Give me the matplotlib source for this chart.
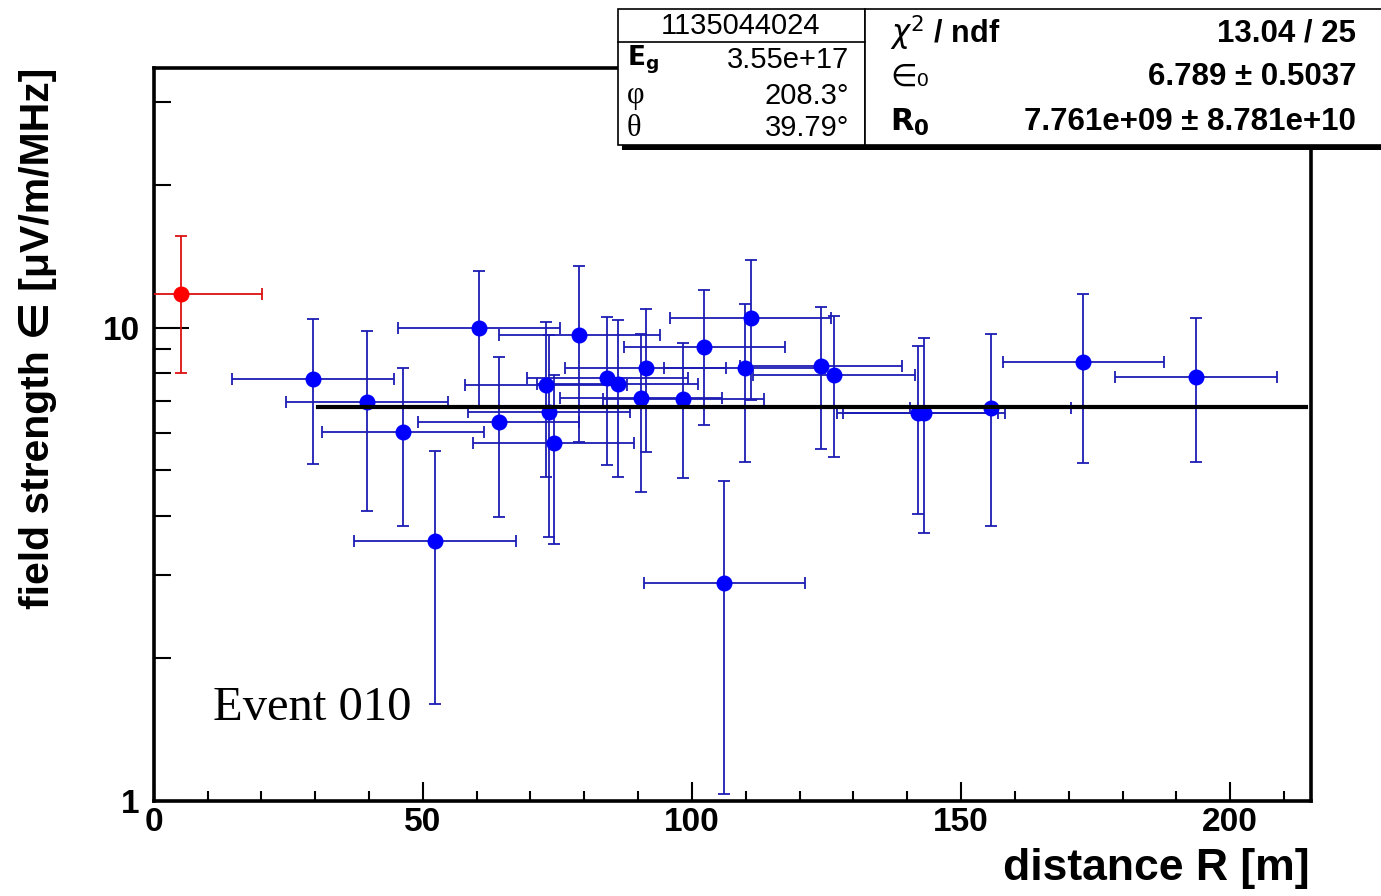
import matplotlib as mpl
mpl.use('Agg')
import matplotlib.pyplot as plt
import numpy as np
from matplotlib.patches import Rectangle
from matplotlib.ticker import LogLocator, NullFormatter, FixedLocator, MultipleLocator

plt.rcParams['font.family'] = ['Liberation Sans', 'DejaVu Sans']

# red station (not in fit)
r_red = [5.1]
eps_red = [11.8]
err_red = [3.8]

# blue stations: distance R [m], field strength, error
r_blue = [29.6, 39.6, 46.3, 52.3, 60.4, 64.1, 72.9, 73.4, 74.3, 79.1, 84.3, 86.2, 90.5,
          91.4, 98.4, 102.3, 106.0, 109.8, 110.9, 124.0, 126.4, 141.9, 143.1, 155.5,
          172.7, 193.6]
eps_blue = [7.78, 6.97, 6.02, 3.54, 10.0, 6.32, 7.56, 6.64, 5.71, 9.63, 7.81, 7.60, 7.10,
            8.22, 7.05, 9.11, 2.89, 8.20, 10.46, 8.28, 7.94, 6.59, 6.59, 6.75,
            8.47, 7.85]
err_blue = [2.63, 2.87, 2.21, 1.94, 3.2, 2.34, 2.74, 3.03, 2.23, 3.9, 2.7, 2.78, 2.6,
            2.75, 2.25, 2.9, 1.86, 3.0, 3.43, 2.75, 2.62, 2.56, 2.92, 2.95,
            3.3, 2.65]
r_err = 15.0

# fit result  eps0 * exp(-R/R0)
eps0 = 6.789
R0 = 7.761e9
fit_range = (30.5, 214.0)

event_id = '1135044024'
left_rows = [(r'$\mathbf{E_g}$', '3.55e+17'), ('φ', '208.3°'), ('θ', '39.79°')]
right_rows = [(r'$\chi^{2}$ / ndf', '13.04 / 25'), ('∈₀', '6.789 ± 0.5037'),
              (r'$\mathbf{R_0}$', '7.761e+09 ± 8.781e+10')]

W, H = 1381, 896
fig = plt.figure(figsize=(W / 100, H / 100), dpi=100)


def px(x, y):
    return x / W, 1 - y / H


ax = fig.add_axes([153.7 / W, 1 - 800.5 / H, (1311 - 153.7) / W, (800.5 - 68) / H])
ax.set_yscale('log')
ax.set_xlim(0, 215)
ax.set_ylim(1, 35.4)

ax.errorbar(r_blue, eps_blue, xerr=r_err, yerr=err_blue, fmt='o', color='#0000ff',
            ecolor='#1c1cb4', elinewidth=1.3, capsize=4.5, capthick=1.3, markersize=10.5,
            zorder=3)
ax.errorbar(r_red, eps_red, xerr=r_err, yerr=err_red, fmt='o', color='#ff0000',
            ecolor='#dd1010', elinewidth=1.3, capsize=4.5, capthick=1.3, markersize=10.5,
            zorder=3)

rr = np.linspace(fit_range[0], fit_range[1], 50)
ax.plot(rr, eps0 * np.exp(-rr / R0), color='black', lw=3, zorder=4)

ax.xaxis.set_major_locator(MultipleLocator(50))
ax.xaxis.set_minor_locator(MultipleLocator(10))
ax.yaxis.set_major_locator(FixedLocator([1, 10]))
ax.yaxis.set_minor_locator(LogLocator(base=10, subs=np.arange(2, 10)))
ax.yaxis.set_minor_formatter(NullFormatter())
ax.set_yticklabels(['1', '10'])
ax.tick_params(which='both', direction='in', top=False, right=False, width=1.5)
ax.tick_params(axis='x', which='major', length=14, pad=5, labelsize=24)
ax.tick_params(axis='x', which='minor', length=7)
ax.tick_params(axis='y', which='major', length=25, pad=10, labelsize=24)
ax.tick_params(axis='y', which='minor', length=12)
for lab in ax.get_xticklabels() + ax.get_yticklabels():
    lab.set_fontweight('bold')
for s in ax.spines.values():
    s.set_linewidth(2.6)

ax.text(0.051, 0.11, 'Event 010', transform=ax.transAxes, family='Liberation Serif',
        fontsize=35)

fig.text(*px(38, 68), 'field strength ∈ [μV/m/MHz]', rotation=90, ha='center', va='top',
         fontsize=29.5, fontweight='bold')
fig.text(*px(1310, 868), 'distance R [m]', ha='right', va='center',
         fontsize=32, fontweight='bold')

# stats boxes
for (x0, x1) in [(618, 865), (865, 1395)]:
    fig.add_artist(Rectangle(px(x0 + 4, 150), (x1 - x0) / W, 140 / H,
                             transform=fig.transFigure, facecolor='black', edgecolor='none',
                             zorder=10))
    fig.add_artist(Rectangle(px(x0, 145), (x1 - x0) / W, 136 / H,
                             transform=fig.transFigure, facecolor='white', edgecolor='black',
                             lw=1.2, zorder=11))
fig.add_artist(plt.Line2D([618 / W, 865 / W], [1 - 42 / H] * 2, transform=fig.transFigure,
                          color='black', lw=1.2, zorder=12))

fig.text(*px(741, 26), event_id, ha='center', va='center', fontsize=21, zorder=13)
for (lab, val), y in zip(left_rows, [60, 96, 128]):
    fam = ['Liberation Serif', 'DejaVu Serif'] if lab in ('φ', 'θ') else None
    size = 22 if fam else 19
    fig.text(*px(627, y), lab, ha='left', va='center', fontsize=size, zorder=13, family=fam)
    fig.text(*px(849, y), val, ha='right', va='center', fontsize=21, zorder=13)
for (lab, val), y in zip(right_rows, [33, 77, 122]):
    if lab == '∈₀':
        fig.text(*px(890, y), lab, ha='left', va='center', fontsize=22, zorder=13,
                 family=['DejaVu Sans'])
    else:
        fig.text(*px(890, y), lab, ha='left', va='center', fontsize=22, zorder=13,
                 fontweight='bold')
    fig.text(*px(1356, y), val, ha='right', va='center', fontsize=22.5, zorder=13,
             fontweight='bold')

fig.savefig('out.png', dpi=100)
